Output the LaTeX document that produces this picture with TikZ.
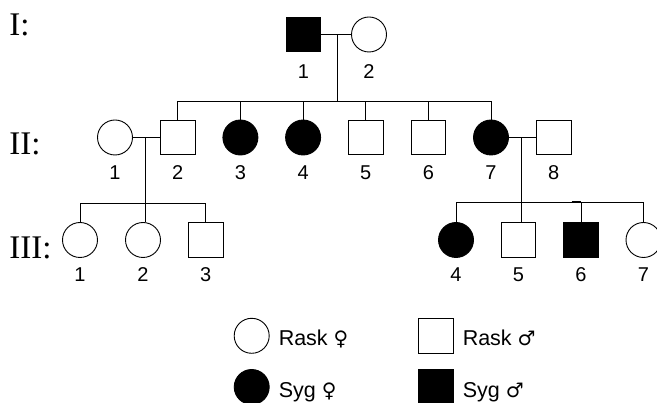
\documentclass[tikz,border=0pt]{standalone}
\usepackage{fontspec}
\setmainfont{Liberation Serif}
\newfontfamily\numfont{Liberation Sans}
\newfontfamily\symfont{DejaVu Sans}
\begin{document}
\begin{tikzpicture}[x=1pt,y=-1pt,
  every path/.style={line width=0.9pt},
  base/.style={draw=black, line width=0.9pt, inner sep=0pt, outer sep=0pt},
  maleU/.style={base, rectangle, minimum size=34.5pt, fill=white},
  maleA/.style={maleU, fill=black},
  femU/.style={base, circle, minimum size=35pt, fill=white},
  femA/.style={femU, fill=black},
  num/.style={font=\numfont\fontsize{20}{22}\selectfont, anchor=base, inner sep=0pt},
  gen/.style={font=\fontsize{33}{36}\selectfont, anchor=base west, inner sep=0pt},
  leg/.style={font=\numfont\fontsize{21.5}{24}\selectfont, anchor=base west, inner sep=0pt},
  rel/.style={draw=black, line width=0.9pt}
]
\useasboundingbox (0,0) rectangle (657,403);

% generation labels
\node[gen] (gI) at (9,35.7) {I:};
\node[gen] (gII) at (9,155) {II:};
\node[gen] (gIII) at (9,258.3) {III:};

% generation I
\node[maleA] (I1) at (303.5,34.5) {};
\node[femU] (I2) at (369,34.5) {};
\node[num] (nI1) at (303.5,78.3) {1};
\node[num] (nI2) at (369,78.3) {2};
\coordinate (m1) at (337,34.5);
\coordinate (s1) at (337,101);

% generation II
\foreach \n/\x/\s in {1/115/femU,2/177.7/maleU,3/240.4/femA,4/303.1/femA,5/365.8/maleU,6/428.5/maleU,7/491/femA,8/553.7/maleU}{
  \node[\s] (II\n) at (\x,137.5) {};
  \node[num] (nII\n) at (\x,180) {\n};
}
\coordinate (m2) at (145.7,137.5);
\coordinate (m3) at (521,137.5);

% generation III
\foreach \n/\x/\s in {1/80/femU,2/143/femU,3/205.7/maleU,4/456/femA,5/518.5/maleU,6/581/maleA,7/643.5/femU}{
  \node[\s] (III\n) at (\x,240) {};
  \node[num] (nIII\n) at (\x,281.7) {\n};
}
\coordinate (s2) at (0,203);
\coordinate (s3) at (0,202.7);

% relations generation I
\draw[rel] (I1.east) -- (I2.west);
\draw[rel] (m1) -- (s1);
\draw[rel] (II2.north |- s1) -- (II7.north |- s1);
\foreach \c in {II2,II3,II4,II5,II6,II7}{
  \draw[rel] (\c.north) -- (\c.north |- s1);
}

% relations II1 x II2
\draw[rel] (II1.east) -- (II2.west);
\draw[rel] (m2) -- (m2 |- III2.north);
\draw[rel] (III1.north |- s2) -- (III3.north |- s2);
\foreach \c in {III1,III3}{
  \draw[rel] (\c.north) -- (\c.north |- s2);
}

% relations II7 x II8
\draw[rel] (II7.east) -- (II8.west);
\draw[rel] (m3) -- (m3 |- III5.north);
\draw[rel] (III4.north |- s3) -- (III7.north |- s3);
\foreach \c in {III4,III6,III7}{
  \draw[rel] (\c.north) -- (\c.north |- s3);
}
\draw[line width=2.2pt] (571.7,202) -- (III6.north |- 0,202);

% legend
\node[femU] (L1) at (251.7,335.8) {};
\node[leg] (tL1) at (278.3,346) {Rask {\symfont\fontsize{20}{22}\selectfont ♀}};
\node[maleU] (L2) at (435.8,335.8) {};
\node[leg] (tL2) at (462.3,346) {Rask {\symfont\fontsize{20}{22}\selectfont ♂}};
\node[femA] (L3) at (251.7,387) {};
\node[leg] (tL3) at (278.3,397.5) {Syg {\symfont\fontsize{20}{22}\selectfont ♀}};
\node[maleA] (L4) at (435.8,387) {};
\node[leg] (tL4) at (462.3,397.5) {Syg {\symfont\fontsize{20}{22}\selectfont ♂}};
\end{tikzpicture}
\end{document}
